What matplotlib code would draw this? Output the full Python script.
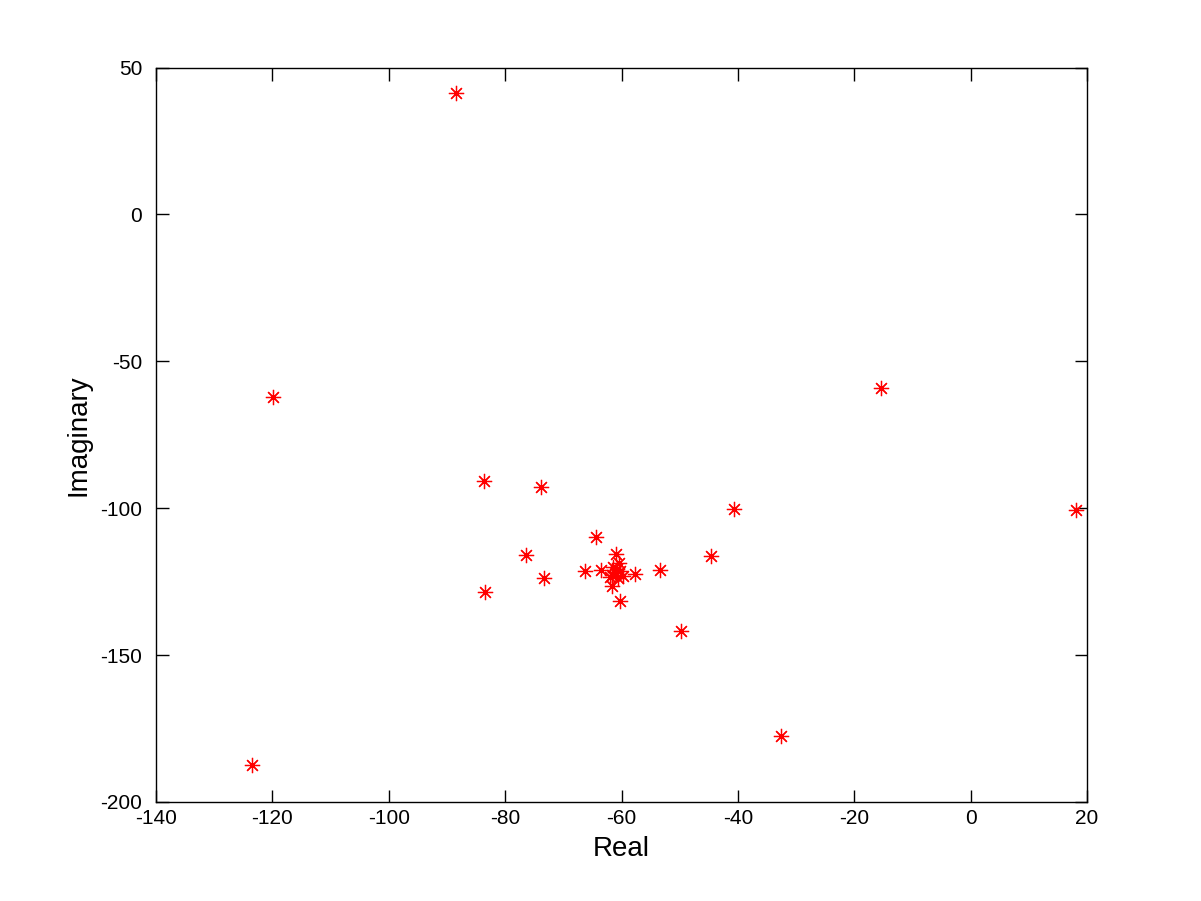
import matplotlib.pyplot as plt
import numpy as np

# pole locations
real_part = [-88.4, -119.9, -123.5, -83.6, -73.8, -83.4, -76.5, -73.4,
             -64.4, -66.3, -63.5, -61.0, -60.5, -61.2, -60.8, -61.6,
             -60.2, -62.0, -60.6, -61.4, -59.7, -57.6, -53.4, -61.7,
             -60.3, -40.6, -44.7, -49.7, -32.6, -15.4, 18.1]
imag_part = [41.4, -62.3, -187.5, -90.6, -92.7, -128.5, -115.9, -123.8,
             -109.7, -121.3, -121.1, -115.5, -118.7, -121.9, -120.8, -122.6,
             -121.5, -123.4, -123.9, -120.2, -123.0, -122.3, -121.1, -126.4,
             -131.5, -100.2, -116.3, -141.9, -177.6, -59.0, -100.5]

plt.rcParams['font.family'] = ['Liberation Sans', 'DejaVu Sans']
plt.rcParams['axes.unicode_minus'] = False

fig = plt.figure(figsize=(12.01, 9.01), dpi=100)
ax = fig.add_axes([0.13, 0.11, 0.775, 0.815])

ax.plot(real_part, imag_part, linestyle='none', marker=(8, 2, 0),
        color='red', markersize=11, markeredgewidth=0.9)

ax.set_xlim(-140, 20)
ax.set_ylim(-200, 50)
ax.set_xticks(np.arange(-140, 21, 20))
ax.set_yticks(np.arange(-200, 51, 50))
ax.tick_params(direction='in', top=True, right=True, length=9, width=1,
               labelsize=15)
ax.tick_params(axis='x', pad=5)
ax.tick_params(axis='y', pad=10)
for s in ax.spines.values():
    s.set_linewidth(1)

ax.set_xlabel('Real', fontsize=20, labelpad=6)
ax.set_ylabel('Imaginary', fontsize=20, labelpad=6)

plt.savefig('out.png', dpi=100)
